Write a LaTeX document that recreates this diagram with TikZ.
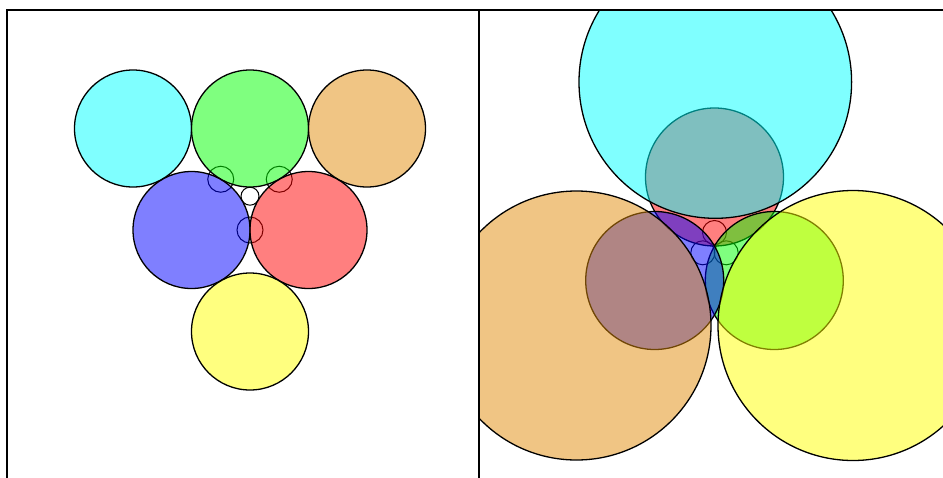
\documentclass[tikz,border=0pt]{standalone}
\definecolor{myorange}{RGB}{225,140,10}
\definecolor{mycyan}{RGB}{0,255,255}
\definecolor{mygreen}{RGB}{0,255,0}
\definecolor{myblue}{RGB}{0,0,255}
\definecolor{myred}{RGB}{255,0,0}
\definecolor{myyellow}{RGB}{255,255,0}
\tikzset{
  disc/.style={draw=black, line width=0.65pt, fill opacity=0.5},
  ring/.style={draw=black, line width=0.5pt},
  frame/.style={draw=black, line width=1pt}
}
\begin{document}
\begin{tikzpicture}[x=0.5pt,y=-0.5pt]
\useasboundingbox (0,0) rectangle (943,477);
% ---------- left panel ----------
\draw[ring] (220.75,179.25) circle[radius=13];
\draw[ring] (279.25,179.25) circle[radius=13];
\draw[ring] (250,230) circle[radius=13];
\draw[ring] (250,196.2) circle[radius=9];
\filldraw[disc, fill=mycyan]   (133,128.5) circle[radius=58.5];
\filldraw[disc, fill=mygreen]  (250,128.5) circle[radius=58.5];
\filldraw[disc, fill=myorange] (367,128.5) circle[radius=58.5];
\filldraw[disc, fill=myblue]   (191.5,230) circle[radius=58.5];
\filldraw[disc, fill=myred]    (308.5,230) circle[radius=58.5];
\filldraw[disc, fill=myyellow] (250,331.5) circle[radius=58.5];
% ---------- right panel ----------
\begin{scope}
\clip (479,10) rectangle (951,482);
\draw[ring] (714.5,232.5) circle[radius=12];
\draw[ring] (702.8,252.8) circle[radius=12];
\draw[ring] (726.2,252.8) circle[radius=12];
\filldraw[disc, fill=myred]   (714.5,177) circle[radius=69];
\filldraw[disc, fill=mygreen] (774.3,280.5) circle[radius=69];
\filldraw[disc, fill=myblue]  (654.7,280.5) circle[radius=69];
\filldraw[disc, fill=mycyan]   (715.3,82) circle[radius=136.3];
\filldraw[disc, fill=myorange] (576.5,325.5) circle[radius=134.5];
\filldraw[disc, fill=myyellow] (853,325.5) circle[radius=135];
\end{scope}
% ---------- frames ----------
\draw[frame] (7,482) -- (7,10) -- (951,10);
\draw[frame] (479,10) -- (479,482);
\end{tikzpicture}
\end{document}
